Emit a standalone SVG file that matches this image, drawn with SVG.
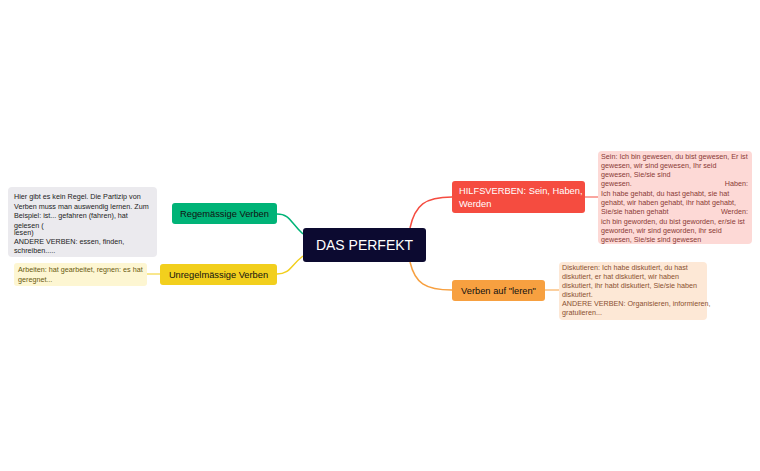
<svg xmlns="http://www.w3.org/2000/svg" width="760" height="471" viewBox="0 0 760 471">
<style>
text{font-family:"Liberation Sans",Arial,sans-serif}
.n{font-size:7.2px}
.b{font-size:9.3px}
.c{fill:none;stroke-width:1.5}
</style>
<rect width="760" height="471" fill="#fff"/>
<g id="connectors">
<path class="c" stroke="#00b377" d="M303,234 C290,222 290,214 277,214"/>
<path class="c" stroke="#f2cf1d" d="M303,256 C290,266 290,274 277,274"/>
<path class="c" stroke="#f54c40" d="M410,228 C415,205 425,197 452,197"/>
<path class="c" stroke="#f7a040" d="M410,262 C415,283 425,290 452,290"/>
<path stroke="#f54c40" stroke-width="1" d="M585,197H598"/>
<path stroke="#f7a040" stroke-width="1" d="M545,290H559"/>
<path stroke="#f2cf1d" stroke-width="1" d="M147,274H160"/>
</g>
<g id="center"><rect x="303" y="228" width="123" height="34" rx="3" fill="#0c0a30"/><text x="364.5" y="250" text-anchor="middle" fill="#fff" font-size="14">DAS PERFEKT</text></g>
<g id="regel"><rect x="172" y="203" width="105" height="21" rx="3" fill="#00b377"/><text class="b" x="224.5" y="217" text-anchor="middle" fill="#111">Regemässige Verben</text></g>
<g id="unregel"><rect x="160" y="264" width="117" height="21" rx="3" fill="#f2cf1d"/><text class="b" x="218.5" y="278" text-anchor="middle" fill="#111">Unregelmässige Verben</text></g>
<g id="hilfs"><rect x="452" y="181" width="133" height="32" rx="3" fill="#f54c40"/><text class="b" x="459" y="194" fill="#fff">HILFSVERBEN: Sein, Haben,</text><text class="b" x="459" y="207" fill="#fff">Werden</text></g>
<g id="leren"><rect x="452" y="280" width="93" height="21" rx="3" fill="#f7a040"/><text class="b" x="498.5" y="294" text-anchor="middle" fill="#111">Verben auf "leren"</text></g>
<g id="note-hilfs"><rect x="598" y="151" width="154" height="93" rx="4" fill="#fdd9d6"/>
<text class="n" fill="#8a3a35"><tspan x="601" y="158.5">Sein: Ich bin gewesen, du bist gewesen, Er ist</tspan><tspan x="601" y="167.8">gewesen, wir sind gewesen, Ihr seid</tspan><tspan x="601" y="177.1">gewesen, Sie/sie sind</tspan><tspan x="601" y="186.4">gewesen.</tspan><tspan x="748" y="186.4" text-anchor="end">Haben:</tspan><tspan x="601" y="195.7">Ich habe gehabt, du hast gehabt, sie hat</tspan><tspan x="601" y="205">gehabt, wir haben gehabt, ihr habt gehabt,</tspan><tspan x="601" y="214.3">Sie/sie haben gehabt</tspan><tspan x="748" y="214.3" text-anchor="end">Werden:</tspan><tspan x="601" y="223.6">ich bin geworden, du bist geworden, er/sie ist</tspan><tspan x="601" y="232.9">geworden, wir sind geworden, ihr seid</tspan><tspan x="601" y="242">gewesen, Sie/sie sind gewesen</tspan></text></g>
<g id="note-leren"><rect x="559" y="262" width="148" height="58" rx="4" fill="#fde8d6"/>
<text class="n" fill="#8a5030"><tspan x="562" y="270">Diskutieren: Ich habe diskutiert, du hast</tspan><tspan x="562" y="279">diskutiert, er hat diskutiert, wir haben</tspan><tspan x="562" y="288">diskutiert, ihr habt diskutiert, Sie/sie haben</tspan><tspan x="562" y="297">diskutiert.</tspan><tspan x="562" y="306">ANDERE VERBEN: Organisieren, informieren,</tspan><tspan x="562" y="315">gratulieren...</tspan></text></g>
<g id="note-regel"><rect x="8" y="187" width="149" height="70" rx="4" fill="#ebeaee"/>
<text class="n" fill="#222"><tspan x="14" y="199">Hier gibt es kein Regel. Die Partizip von</tspan><tspan x="14" y="208.5">Verben muss man auswendig lernen. Zum</tspan><tspan x="14" y="218">Beispiel: ist... gefahren (fahren), hat</tspan><tspan x="14" y="227.5">gelesen (</tspan><tspan x="14" y="235">lesen)</tspan><tspan x="14" y="244">ANDERE VERBEN: essen, finden,</tspan><tspan x="14" y="253">schreiben.....</tspan></text></g>
<g id="note-unregel"><rect x="14" y="263" width="133" height="23" rx="3" fill="#fdf6d2"/>
<text class="n" fill="#6a5a10"><tspan x="18" y="272">Arbeiten: hat gearbeitet, regnen: es hat</tspan><tspan x="18" y="281.5">geregnet...</tspan></text></g>
</svg>
